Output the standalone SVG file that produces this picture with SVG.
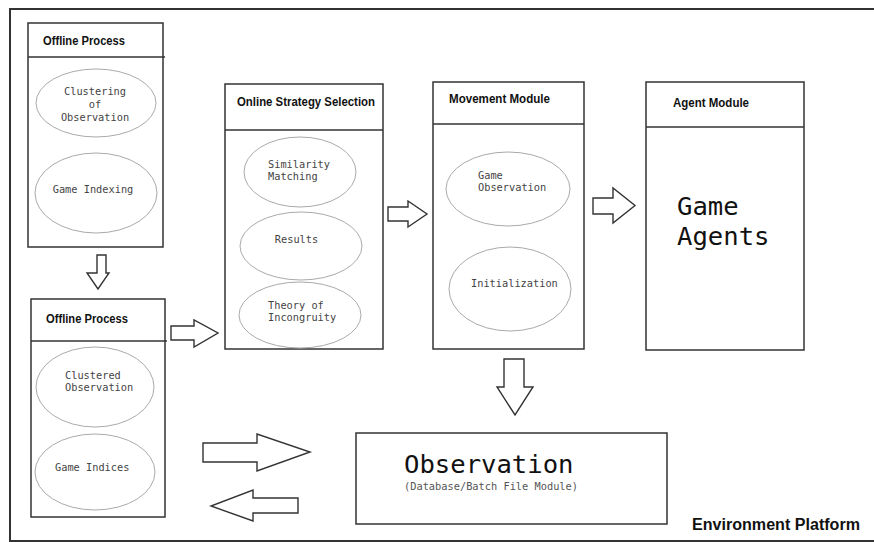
<svg xmlns="http://www.w3.org/2000/svg" width="874" height="542" viewBox="0 0 874 542">
<defs>
<style>
.box{fill:#fff;stroke:#333;stroke-width:1.5}
.div{stroke:#333;stroke-width:1.5}
.ell{fill:#fff;stroke:#aaa;stroke-width:1}
.arr{fill:#fff;stroke:#333;stroke-width:1.4;stroke-linejoin:miter}
.title{font-family:"Liberation Sans",Arial,sans-serif;font-weight:bold;font-size:13px;fill:#111}
.mono{font-family:"DejaVu Sans Mono","Liberation Mono",monospace;font-size:10.3px;fill:#444}
.big{font-family:"DejaVu Sans Mono","Liberation Mono",monospace;font-size:25.6px;fill:#111}
</style>
</defs>
<rect width="874" height="542" fill="#fff"/>
<path d="M 880 9 H 10 V 541 H 880" fill="none" stroke="#333" stroke-width="2"/>

<g id="offline1">
<rect class="box" x="28" y="23" width="135" height="224"/>
<line class="div" x1="28" y1="57" x2="165" y2="57"/>
<text class="title" x="43" y="45" textLength="82" lengthAdjust="spacingAndGlyphs">Offline Process</text>
<ellipse class="ell" cx="96" cy="103" rx="60" ry="34"/>
<text class="mono" x="95" y="94.5" text-anchor="middle">Clustering</text>
<text class="mono" x="95" y="107.5" text-anchor="middle">of</text>
<text class="mono" x="95" y="120.5" text-anchor="middle">Observation</text>
<ellipse class="ell" cx="96" cy="193" rx="61" ry="40"/>
<text class="mono" x="93" y="193" text-anchor="middle">Game Indexing</text>
</g>

<g id="offline2">
<rect class="box" x="31" y="299" width="134" height="218"/>
<line class="div" x1="31" y1="341" x2="167" y2="341"/>
<text class="title" x="46" y="323" textLength="82" lengthAdjust="spacingAndGlyphs">Offline Process</text>
<ellipse class="ell" cx="95" cy="387" rx="59" ry="40"/>
<text class="mono" x="65" y="379">Clustered</text>
<text class="mono" x="65" y="391">Observation</text>
<ellipse class="ell" cx="95" cy="472" rx="60" ry="38"/>
<text class="mono" x="55" y="471">Game Indices</text>
</g>

<g id="online">
<rect class="box" x="225" y="84" width="158" height="265"/>
<line class="div" x1="225" y1="130" x2="383" y2="130"/>
<text class="title" x="237" y="106" textLength="138" lengthAdjust="spacingAndGlyphs">Online Strategy Selection</text>
<ellipse class="ell" cx="300" cy="172" rx="56" ry="35"/>
<text class="mono" x="268" y="168">Similarity</text>
<text class="mono" x="268" y="180">Matching</text>
<ellipse class="ell" cx="301" cy="246" rx="61" ry="34"/>
<text class="mono" x="296.5" y="243" text-anchor="middle">Results</text>
<ellipse class="ell" cx="300" cy="315" rx="61" ry="33"/>
<text class="mono" x="268" y="309">Theory of</text>
<text class="mono" x="268" y="321">Incongruity</text>
</g>

<g id="movement">
<rect class="box" x="433" y="82" width="151" height="267"/>
<line class="div" x1="433" y1="124" x2="584" y2="124"/>
<text class="title" x="449" y="103" textLength="101" lengthAdjust="spacingAndGlyphs">Movement Module</text>
<ellipse class="ell" cx="508" cy="189" rx="62" ry="37"/>
<text class="mono" x="478" y="179">Game</text>
<text class="mono" x="478" y="191">Observation</text>
<ellipse class="ell" cx="510" cy="289" rx="61" ry="42"/>
<text class="mono" x="471" y="287">Initialization</text>
</g>

<g id="agent">
<rect class="box" x="646" y="82" width="158" height="268"/>
<line class="div" x1="646" y1="127" x2="804" y2="127"/>
<text class="title" x="673" y="107" textLength="76" lengthAdjust="spacingAndGlyphs">Agent Module</text>
<text class="big" x="677" y="215">Game</text>
<text class="big" x="677" y="245">Agents</text>
</g>

<g id="observation">
<rect class="box" x="356" y="433" width="311" height="91"/>
<text class="big" x="404" y="473">Observation</text>
<text class="mono" x="404" y="490" style="fill:#555" textLength="174" lengthAdjust="spacingAndGlyphs">(Database/Batch File Module)</text>
</g>

<g id="environment">
<text class="title" x="692" y="530" style="font-size:16px" textLength="168" lengthAdjust="spacingAndGlyphs">Environment Platform</text>
</g>

<g id="connectors">
<path class="arr" d="M 97 255 H 106 V 273 H 109 L 98 289 L 87 273 H 97 Z"/>
<path class="arr" d="M 171 326 H 194 V 320 L 218 333 L 194 347 V 340 H 171 Z"/>
<path class="arr" d="M 388 207 H 408 V 201 L 427 214 L 408 227 V 221 H 388 Z"/>
<path class="arr" d="M 593 198 H 613 V 188 L 635 205.5 L 613 223 V 214 H 593 Z"/>
<path class="arr" d="M 504 359 H 524 V 387 H 533 L 515 415 L 497 387 H 504 Z"/>
<path class="arr" d="M 203 443 H 257 V 434 L 310 452 L 257 471 V 462 H 203 Z"/>
<path class="arr" d="M 298 498 H 253 V 490 L 211 506 L 253 521 V 513 H 298 Z"/>
</g>
</svg>
